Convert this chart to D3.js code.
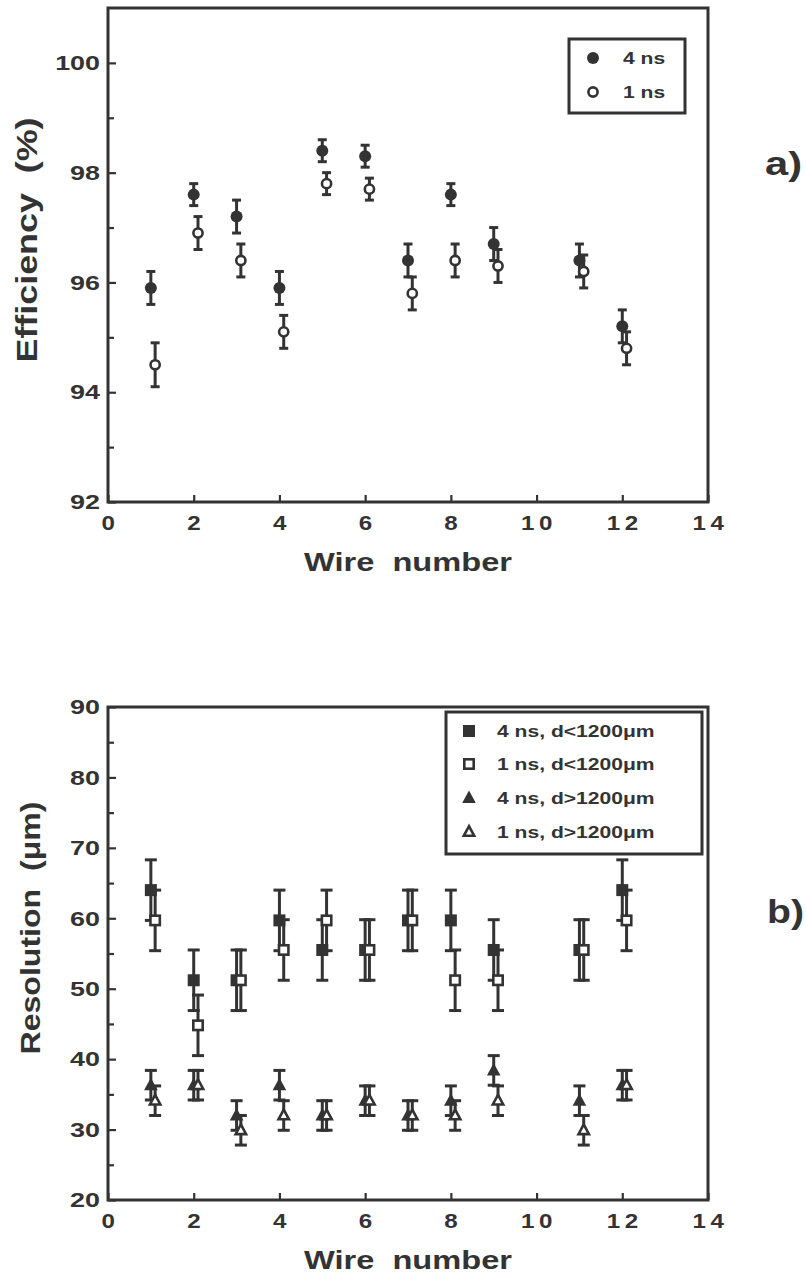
<!DOCTYPE html>
<html>
<head>
<meta charset="utf-8">
<script src="https://cdn.jsdelivr.net/npm/d3@7"></script>
<style>
  body { margin: 0; background: #fff; }
  svg text {
    font-family: "Liberation Sans", Arial, Helvetica, sans-serif;
    font-weight: bold;
    fill: #333;
    white-space: pre;
  }
</style>
</head>
<body>
<svg id="fig" width="806" height="1279"></svg>
<script>
// ---- data ----
const wires = [1, 2, 3, 4, 5, 6, 7, 8, 9, 11, 12];
const xTicks = [0, 2, 4, 6, 8, 10, 12, 14];

// (a) efficiency, %
const eff4ns    = [95.9, 97.6, 97.2, 95.9, 98.4, 98.3, 96.4, 97.6, 96.7, 96.4, 95.2];
const eff4nsErr = [0.3, 0.2, 0.3, 0.3, 0.2, 0.2, 0.3, 0.2, 0.3, 0.3, 0.3];
const eff1ns    = [94.5, 96.9, 96.4, 95.1, 97.8, 97.7, 95.8, 96.4, 96.3, 96.2, 94.8];
const eff1nsErr = [0.4, 0.3, 0.3, 0.3, 0.2, 0.2, 0.3, 0.3, 0.3, 0.3, 0.3];
const effTicks  = [92, 94, 96, 98, 100];
const effMinor  = [93, 95, 97, 99];

// (b) resolution, um
const resNear4ns    = [64.0, 51.2, 51.2, 59.7, 55.5, 55.5, 59.7, 59.7, 55.5, 55.5, 64.0];
const resNear4nsErr = [4.3, 4.3, 4.3, 4.3, 4.3, 4.3, 4.3, 4.3, 4.3, 4.3, 4.3];
const resNear1ns    = [59.7, 44.8, 51.2, 55.5, 59.7, 55.5, 59.7, 51.2, 51.2, 55.5, 59.7];
const resNear1nsErr = [4.3, 4.3, 4.3, 4.3, 4.3, 4.3, 4.3, 4.3, 4.3, 4.3, 4.3];
const resFar4ns     = [36.3, 36.3, 32.0, 36.3, 32.0, 34.1, 32.0, 34.1, 38.4, 34.1, 36.3];
const resFar4nsErr  = [2.1, 2.1, 2.1, 2.1, 2.1, 2.1, 2.1, 2.1, 2.1, 2.1, 2.1];
const resFar1ns     = [34.1, 36.3, 29.9, 32.0, 32.0, 34.1, 32.0, 32.0, 34.1, 29.9, 36.3];
const resFar1nsErr  = [2.1, 2.1, 2.1, 2.1, 2.1, 2.1, 2.1, 2.1, 2.1, 2.1, 2.1];
const resTicks = [20, 30, 40, 50, 60, 70, 80, 90];
const resMinor = [25, 35, 45, 55, 65, 75, 85];

// ---- drawing ----
const INK = "#333";
const svg = d3.select("#fig");

// widen text by a factor, keeping the anchor
function widen(sel, k) {
  sel.each(function () {
    const w = this.getComputedTextLength();
    d3.select(this).attr("textLength", w * k).attr("lengthAdjust", "spacingAndGlyphs");
  });
}
function toLength(sel, len) {
  sel.attr("textLength", len).attr("lengthAdjust", "spacingAndGlyphs");
}

const shapes = {
  circleFilled: g => g.append("circle").attr("r", 6).attr("fill", INK),
  circleOpen: g => g.append("circle").attr("r", 4.6).attr("fill", "#fff")
                    .attr("stroke", INK).attr("stroke-width", 2.6),
  squareFilled: g => g.append("rect").attr("x", -6).attr("y", -6).attr("width", 12).attr("height", 12)
                      .attr("fill", INK),
  squareOpen: g => g.append("rect").attr("x", -4.7).attr("y", -4.7).attr("width", 9.4).attr("height", 9.4)
                    .attr("fill", "#fff").attr("stroke", INK).attr("stroke-width", 2.6),
  triFilled: g => g.append("path").attr("d", "M0,-7.5L6.8,5L-6.8,5Z").attr("fill", INK),
  triOpen: g => g.append("path").attr("d", "M0,-5.8L5.2,3.8L-5.2,3.8Z").attr("fill", "#fff")
                 .attr("stroke", INK).attr("stroke-width", 2.6).attr("stroke-linejoin", "miter")
};

function panel(opt) {
  const x = d3.scaleLinear().domain([0, 14]).range([108, 708]);
  const y = d3.scaleLinear().domain(opt.yDomain).range(opt.yRange);
  const g = svg.append("g");

  // y axis: labelled major ticks and bare minor ticks, pointing inward
  const yMaj = g.append("g").attr("transform", "translate(108,0)")
    .call(d3.axisLeft(y).tickValues(opt.yTicks).tickSize(-8).tickPadding(8).tickFormat(d3.format("d")));
  g.append("g").attr("transform", "translate(108,0)")
    .call(d3.axisLeft(y).tickValues(opt.yMinor).tickSize(-6).tickFormat(""));
  // x axis
  const xMaj = g.append("g").attr("transform", `translate(0,${opt.yRange[0]})`)
    .call(d3.axisBottom(x).tickValues(xTicks).tickSize(-7).tickPadding(13).tickFormat(d3.format("d")));

  g.selectAll(".domain").remove();
  g.selectAll(".tick line").attr("stroke", INK).attr("stroke-width", 2.2);
  yMaj.selectAll("text").attr("font-size", 21).attr("fill", INK).call(widen, 1.28);
  xMaj.selectAll("text").attr("font-size", 21).attr("fill", INK)
    .attr("letter-spacing", 4).attr("dx", 2).call(widen, 1.15);

  // frame
  g.append("rect")
    .attr("x", x(0)).attr("y", opt.yRange[1])
    .attr("width", x(14) - x(0)).attr("height", opt.yRange[0] - opt.yRange[1])
    .attr("fill", "none").attr("stroke", INK).attr("stroke-width", 3);

  // series: error bars first, markers on top
  opt.series.forEach(s => {
    const pts = wires.map((w, i) => ({ w: w + s.dx, v: s.values[i], e: s.errors[i] }));
    const bars = g.append("g").attr("stroke", INK).attr("stroke-width", 3).attr("fill", "none");
    pts.forEach(p => {
      const cx = x(p.w), y0 = y(p.v - p.e), y1 = y(p.v + p.e);
      bars.append("line").attr("x1", cx).attr("x2", cx).attr("y1", y0).attr("y2", y1);
      bars.append("line").attr("x1", cx - opt.cap).attr("x2", cx + opt.cap).attr("y1", y0).attr("y2", y0);
      bars.append("line").attr("x1", cx - opt.cap).attr("x2", cx + opt.cap).attr("y1", y1).attr("y2", y1);
    });
  });
  opt.series.forEach(s => {
    wires.forEach((w, i) => {
      const m = g.append("g").attr("transform", `translate(${x(w + s.dx)},${y(s.values[i])})`);
      shapes[s.shape](m);
    });
  });

  // axis titles
  g.append("text").attr("x", (x(0) + x(14)) / 2).attr("y", opt.xTitleY)
    .attr("text-anchor", "middle").attr("font-size", 26)
    .text("Wire  number").call(toLength, 208);
  g.append("text")
    .attr("transform", `translate(${opt.yTitleX},${opt.yTitleY}) rotate(-90)`)
    .attr("text-anchor", "middle").attr("font-size", opt.yTitleSize)
    .text(opt.yTitle).call(toLength, opt.yTitleLen);

  // panel tag
  g.append("text").attr("x", opt.tagX).attr("y", opt.tagY).attr("font-size", 34)
    .text(opt.tag).call(toLength, 37);

  // legend
  const L = opt.legend;
  const lg = g.append("g");
  lg.append("rect").attr("x", L.x).attr("y", L.y).attr("width", L.w).attr("height", L.h)
    .attr("fill", "#fff").attr("stroke", INK).attr("stroke-width", 3);
  opt.series.forEach((s, i) => {
    const ry = L.rows[i];
    const m = lg.append("g").attr("transform", `translate(${L.mx},${ry})`);
    shapes[s.shape](m);
    lg.append("text").attr("x", L.tx).attr("y", ry).attr("dy", "0.36em")
      .attr("font-size", 17).text(s.name).call(widen, 1.24);
  });
}

panel({
  yDomain: [92, 101], yRange: [502, 8],
  yTicks: effTicks, yMinor: effMinor,
  cap: 4.5,
  xTitleY: 571,
  yTitle: "Efficiency  (%)", yTitleX: 37, yTitleY: 240, yTitleSize: 29, yTitleLen: 245,
  tag: "a)", tagX: 765, tagY: 175,
  legend: { x: 569, y: 39, w: 116, h: 74, mx: 593, tx: 623, rows: [58, 92] },
  series: [
    { name: "4 ns", values: eff4ns, errors: eff4nsErr, dx: 0, shape: "circleFilled" },
    { name: "1 ns", values: eff1ns, errors: eff1nsErr, dx: 0.1, shape: "circleOpen" }
  ]
});

panel({
  yDomain: [20, 90], yRange: [1200, 707],
  yTicks: resTicks, yMinor: resMinor,
  cap: 6,
  xTitleY: 1269,
  yTitle: "Resolution  (\u03bcm)", yTitleX: 40, yTitleY: 928, yTitleSize: 28, yTitleLen: 253,
  tag: "b)", tagX: 767, tagY: 923,
  legend: { x: 446, y: 712, w: 256, h: 142, mx: 469, tx: 497, rows: [731, 764, 798, 832] },
  series: [
    { name: "4 ns, d<1200\u03bcm", values: resNear4ns, errors: resNear4nsErr, dx: 0, shape: "squareFilled" },
    { name: "1 ns, d<1200\u03bcm", values: resNear1ns, errors: resNear1nsErr, dx: 0.1, shape: "squareOpen" },
    { name: "4 ns, d>1200\u03bcm", values: resFar4ns, errors: resFar4nsErr, dx: 0, shape: "triFilled" },
    { name: "1 ns, d>1200\u03bcm", values: resFar1ns, errors: resFar1nsErr, dx: 0.1, shape: "triOpen" }
  ]
});
</script>
</body>
</html>
